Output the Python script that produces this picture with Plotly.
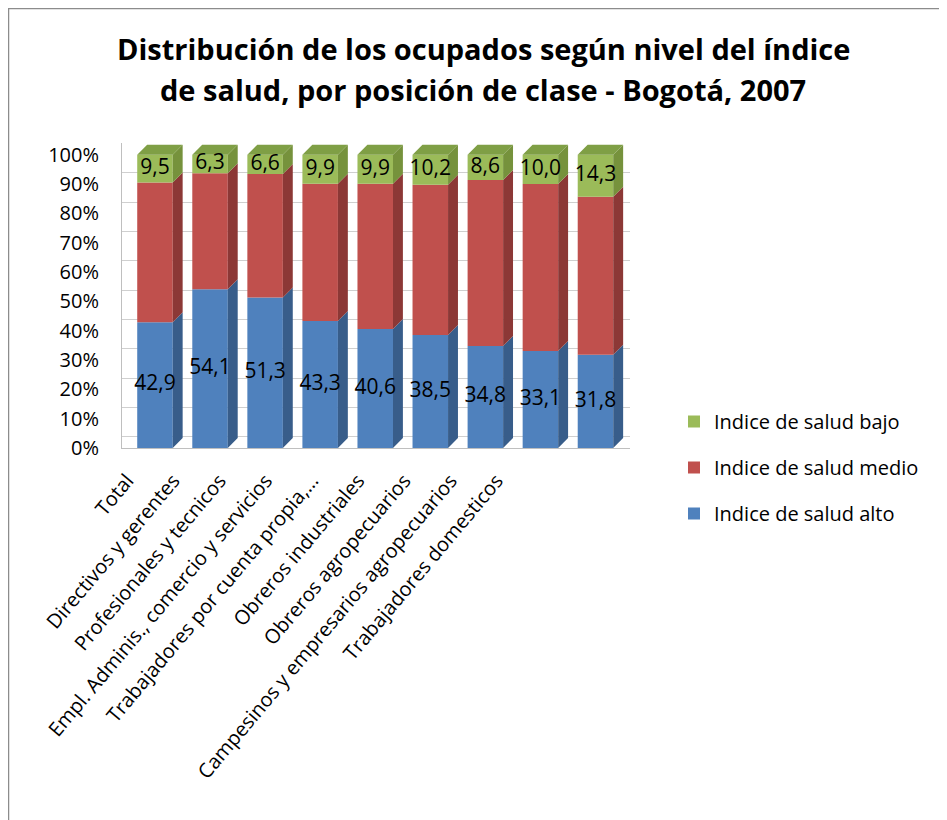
import plotly.graph_objects as go

categories = [
    "Total",
    "Directivos y gerentes",
    "Profesionales y tecnicos",
    "Empl. Adminis., comercio y servicios",
    "Trabajadores por cuenta propia,…",
    "Obreros industriales",
    "Obreros agropecuarios",
    "Campesinos y empresarios agropecuarios",
    "Trabajadores domesticos",
]
alto = [42.9, 54.1, 51.3, 43.3, 40.6, 38.5, 34.8, 33.1, 31.8]
medio = [47.6, 39.6, 42.1, 46.8, 49.5, 51.3, 56.6, 56.9, 53.9]
bajo = [9.5, 6.3, 6.6, 9.9, 9.9, 10.2, 8.6, 10.0, 14.3]
y_ticks = [0, 10, 20, 30, 40, 50, 60, 70, 80, 90, 100]
y_ticktext = [f"{v}%" for v in y_ticks]

FONT = "Open Sans"
W = 0.645     # bar width (x units)
DX = 0.18     # depth offset x
DY = 3.4      # depth offset y (%)
GRID_OFF = 3.8  # back-wall gridline offset (%)

front = {"alto": "#4F81BD", "medio": "#C0504D", "bajo": "#9BBB59"}
side = {"alto": "#385D8A", "medio": "#8C3836", "bajo": "#76923C"}
names = {"alto": "Indice de salud alto", "medio": "Indice de salud medio", "bajo": "Indice de salud bajo"}
rank = {"alto": 3, "medio": 2, "bajo": 1}
series = [("alto", alto), ("medio", medio), ("bajo", bajo)]

xs = list(range(len(categories)))
fig = go.Figure()

base = [0.0] * len(xs)
for key, vals in series:
    fig.add_trace(go.Bar(
        x=xs, y=vals, base=base, width=W, name=names[key],
        marker=dict(color=front[key], line=dict(width=0)),
        legendgroup=key, legendrank=rank[key], hoverinfo="skip",
    ))
    px, py = [], []
    for i, b, v in zip(xs, base, vals):
        x0 = i + W / 2
        px += [x0, x0 + DX, x0 + DX, x0, x0, None]
        py += [b, b + DY, b + v + DY, b + v, b, None]
    fig.add_trace(go.Scatter(x=px, y=py, mode="lines", fill="toself",
                             fillcolor=side[key], line=dict(width=0, color=side[key]),
                             showlegend=False, hoverinfo="skip"))
    base = [b + v for b, v in zip(base, vals)]

tx, ty = [], []
for i, t in zip(xs, base):
    tx += [i - W / 2, i - W / 2 + DX, i + W / 2 + DX, i + W / 2, i - W / 2, None]
    ty += [t, t + DY, t + DY, t, t, None]
fig.add_trace(go.Scatter(x=tx, y=ty, mode="lines", fill="toself", fillcolor="#7F9F45",
                         line=dict(width=0, color="#7F9F45"), showlegend=False, hoverinfo="skip"))

fmt = lambda v: f"{v:.1f}".replace(".", ",")
fig.add_trace(go.Scatter(x=xs, y=[a / 2 for a in alto], mode="text",
                         text=[fmt(v) for v in alto], textfont=dict(family=FONT, size=21, color="#000"),
                         showlegend=False, hoverinfo="skip", cliponaxis=False))
fig.add_trace(go.Scatter(x=xs, y=[a + m + b / 2 for a, m, b in zip(alto, medio, bajo)], mode="text",
                         text=[fmt(v) for v in bajo], textfont=dict(family=FONT, size=21, color="#000"),
                         showlegend=False, hoverinfo="skip", cliponaxis=False))

# invisible trace binding the label axis (x2) and back-wall grid axis (y2)
fig.add_trace(go.Scatter(x=xs, y=[None] * len(xs), xaxis="x2", yaxis="y2", mode="markers",
                         showlegend=False, hoverinfo="skip"))

# plot-area geometry in figure pixels
L, R, T, B = 114, 622, 135, 440
PW, PH = R - L, B - T
px2p = lambda p: (p - L) / PW
py2p = lambda p: (B - p) / PH
YMAX = 104

fig.update_layout(
    width=947, height=820,
    margin=dict(l=L, r=947 - R, t=T, b=820 - B),
    paper_bgcolor="white", plot_bgcolor="white",
    barmode="overlay",
    font=dict(family=FONT, size=20, color="#000"),
    showlegend=True,
    legend=dict(xref="container", yref="container", x=666 / 947, y=1 - 394 / 820,
                xanchor="left", yanchor="top",
                traceorder="grouped", tracegroupgap=17,
                font=dict(family=FONT, size=20, color="#000"), bgcolor="rgba(0,0,0,0)"),
    xaxis=dict(range=[-0.599, 8.627], showticklabels=False, showgrid=False, zeroline=False,
               showline=True, linecolor="#BFBFBF", ticks="", automargin=False),
    xaxis2=dict(overlaying="x", side="bottom", range=[-0.11, 10.89],
                tickvals=xs, ticktext=categories, tickangle=-50, showgrid=False,
                zeroline=False, showline=False, ticks="", ticklabelstandoff=16,
                automargin=False, tickfont=dict(family=FONT, size=20, color="#000")),
    yaxis=dict(range=[0, YMAX], tickvals=y_ticks, ticktext=y_ticktext, showgrid=False,
               zeroline=False, showline=True,
               linecolor="#BFBFBF", ticks="", ticklabelstandoff=18, automargin=False,
               tickfont=dict(family=FONT, size=20, color="#000")),
    yaxis2=dict(overlaying="y", side="left", range=[-GRID_OFF, YMAX - GRID_OFF],
                tickvals=y_ticks, showticklabels=False, showgrid=True, gridcolor="#CFCFCF",
                gridwidth=1, zeroline=False, showline=False, ticks="", automargin=False,
                layer="below traces"),
    annotations=[
        dict(text="<b>Distribución de los ocupados según nivel del índice</b>", x=px2p(475), y=py2p(40),
             xref="paper", yref="paper", showarrow=False, xanchor="center", yanchor="middle",
             font=dict(family=FONT, size=29, color="#000")),
        dict(text="<b>de salud, por posición de clase - Bogotá, 2007</b>", x=px2p(475), y=py2p(82),
             xref="paper", yref="paper", showarrow=False, xanchor="center", yanchor="middle",
             font=dict(family=FONT, size=29, color="#000")),
    ],
    shapes=[dict(type="rect", xref="paper", yref="paper", x0=px2p(0.5), x1=px2p(960),
                 y0=py2p(900), y1=py2p(0.5), line=dict(color="#8C8C8C", width=1.5), layer="below")],
)

fig.write_html("out.html")
